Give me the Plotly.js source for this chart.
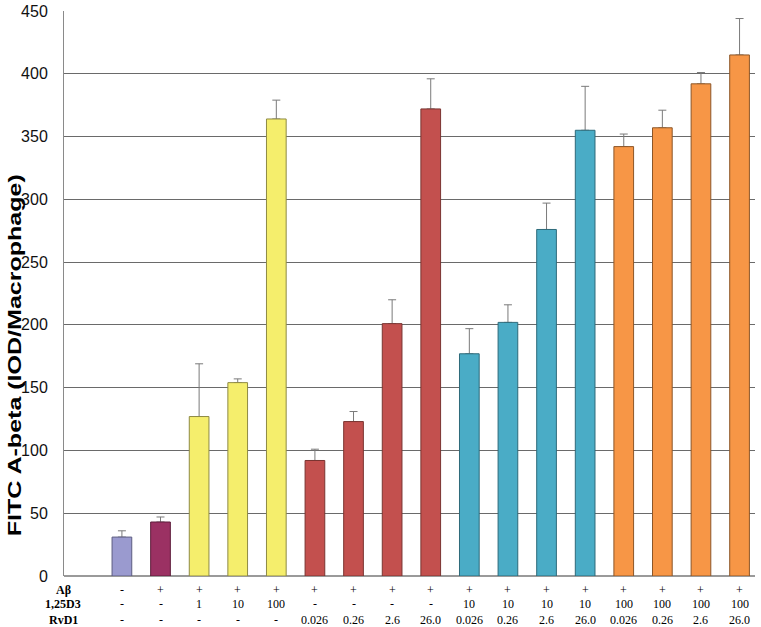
<!DOCTYPE html>
<html>
<head>
<meta charset="utf-8">
<script src="https://cdn.plot.ly/plotly-3.0.1.min.js"></script>
<style>html,body{margin:0;padding:0;background:#fff;}#chart{width:761px;height:627px;}</style>
</head>
<body>
<div id="chart"></div>
<script>
// Conditions (table rows below the bars)
const abeta = ['-', '+', '+', '+', '+', '+', '+', '+', '+', '+', '+', '+', '+', '+', '+', '+', '+'];
const d3    = ['-', '-', '1', '10', '100', '-', '-', '-', '-', '10', '10', '10', '10', '100', '100', '100', '100'];
const rvd1  = ['-', '-', '-', '-', '-', '0.026', '0.26', '2.6', '26.0', '0.026', '0.26', '2.6', '26.0', '0.026', '0.26', '2.6', '26.0'];
const rowLabels = ['Aβ', '1,25D3', 'RvD1'];
const yTitle = 'FITC A-beta (IOD/Macrophage)';

// Values (FITC A-beta, IOD/Macrophage) and upper error
const values = [31, 43, 127, 154, 364, 92, 123, 201, 372, 177, 202, 276, 355, 342, 357, 392, 415];
const errors = [5, 4, 42, 3, 15, 9, 8, 19, 24, 20, 14, 21, 35, 10, 14, 9, 29];

const fills = ['#9a9acf', '#9b3163', '#f5ee6c', '#f5ee6c', '#f5ee6c',
  '#c3504e', '#c3504e', '#c3504e', '#c3504e',
  '#4aacc6', '#4aacc6', '#4aacc6', '#4aacc6',
  '#f79646', '#f79646', '#f79646', '#f79646'];
const outlines = ['#5c5c80', '#5e1e3c', '#8e8a44', '#8e8a44', '#8e8a44',
  '#7a3431', '#7a3431', '#7a3431', '#7a3431',
  '#2d6a7a', '#2d6a7a', '#2d6a7a', '#2d6a7a',
  '#8c5628', '#8c5628', '#8c5628', '#8c5628'];

const idx = values.map((v, i) => i);
const zeros = values.map(() => 0);

const errTrace = {
  type: 'bar', x: idx, y: values, width: 0.51,
  marker: {color: 'rgba(0,0,0,0)', line: {width: 0}},
  error_y: {type: 'data', symmetric: false, array: errors, arrayminus: zeros,
            color: '#7a7a7a', thickness: 1, width: 4},
  hoverinfo: 'skip', showlegend: false
};
const barTrace = {
  type: 'bar', x: idx, y: values, width: 0.51,
  marker: {color: fills, line: {color: outlines, width: 1}},
  showlegend: false
};

const rowY = [-0.0248, -0.0496, -0.0779];
const rows = [abeta, d3, rvd1];
const annotations = [];
rowLabels.forEach((lab, r) => {
  annotations.push({xref: 'paper', yref: 'paper', x: -0.001, y: rowY[r], text: '<b>' + lab + '</b>',
    showarrow: false, xanchor: 'center', yanchor: 'middle',
    font: {family: 'Liberation Serif, Times New Roman, serif', size: 12, color: '#000'}});
  rows[r].forEach((t, i) => {
    annotations.push({xref: 'x', yref: 'paper', x: i, y: rowY[r], text: t,
      showarrow: false, xanchor: 'center', yanchor: 'middle',
      font: {family: 'Liberation Serif, Times New Roman, serif', size: 12, color: '#000'}});
  });
});
// y-axis title as a rotated annotation (stretched after drawing to match the original)
annotations.push({xref: 'paper', yref: 'paper', x: -0.0705, y: 0.391, text: '<b>' + yTitle + '</b>',
  textangle: -90, showarrow: false, xanchor: 'center', yanchor: 'middle', name: 'ytitle',
  font: {family: 'Liberation Sans, Arial, sans-serif', size: 18, color: '#000'}});

const layout = {
  width: 761, height: 627,
  margin: {l: 64, r: 6, t: 11, b: 51, pad: 0},
  paper_bgcolor: '#fff', plot_bgcolor: '#fff',
  barmode: 'overlay',
  xaxis: {range: [-1.5, 16.4], showticklabels: false, showgrid: false, zeroline: false,
          showline: false, ticks: '', fixedrange: true},
  yaxis: {range: [0, 450], dtick: 50, tick0: 0, showgrid: true, gridcolor: '#6a6a6a', gridwidth: 1,
          zeroline: true, zerolinecolor: '#9a9a9a', zerolinewidth: 2,
          showline: true, linecolor: '#8a8a8a', linewidth: 1,
          ticks: 'outside', ticklen: 12, tickcolor: 'rgba(0,0,0,0)',
          tickfont: {family: 'Liberation Sans, Arial, sans-serif', size: 16, color: '#111'}},
  annotations: annotations
};

Plotly.newPlot('chart', [errTrace, barTrace], layout, {displayModeBar: false, staticPlot: true}).then(() => {
  document.querySelectorAll('.annotation-text').forEach(el => {
    if (el.textContent === yTitle) {
      el.setAttribute('textLength', '362');
      el.setAttribute('lengthAdjust', 'spacingAndGlyphs');
    }
  });
});
</script>
</body>
</html>
